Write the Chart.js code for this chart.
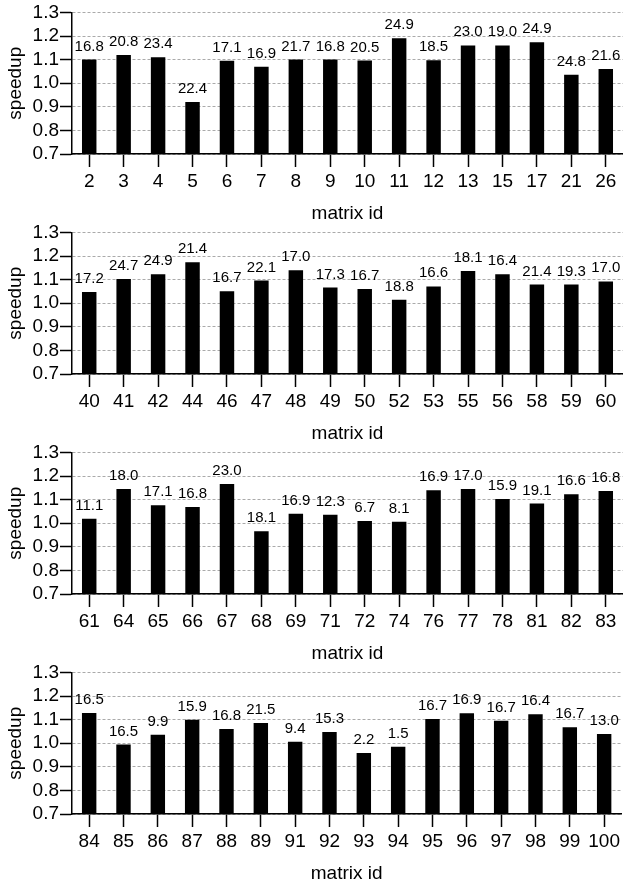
<!DOCTYPE html>
<html>
<head>
<meta charset="utf-8">
<script src="https://cdn.jsdelivr.net/npm/chart.js@4.4.1/dist/chart.umd.min.js"></script>
<style>
    html, body { margin: 0; padding: 0; background: #fff; }
    .panel { width: 623px; height: 220px; }
    canvas { display: block; }
</style>
</head>
<body>
<div class="panel"><canvas id="c1" width="623" height="220"></canvas></div>
<div class="panel"><canvas id="c2" width="623" height="220"></canvas></div>
<div class="panel"><canvas id="c3" width="623" height="220"></canvas></div>
<div class="panel"><canvas id="c4" width="623" height="220"></canvas></div>
<script>
// Datos (speedup por matriz y el valor anotado arriba de cada barra)
const ids1 = ['2', '3', '4', '5', '6', '7', '8', '9', '10', '11', '12', '13', '15', '17', '21', '26'];
const speed1 = [1.10, 1.12, 1.11, 0.92, 1.095, 1.07, 1.10, 1.10, 1.096, 1.19, 1.097, 1.16, 1.16, 1.174, 1.036, 1.06];
const notas1 = ['16.8', '20.8', '23.4', '22.4', '17.1', '16.9', '21.7', '16.8', '20.5', '24.9', '18.5', '23.0', '19.0', '24.9', '24.8', '21.6'];

const ids2 = ['40', '41', '42', '44', '46', '47', '48', '49', '50', '52', '53', '55', '56', '58', '59', '60'];
const speed2 = [1.047, 1.103, 1.123, 1.173, 1.051, 1.096, 1.14, 1.066, 1.06, 1.015, 1.071, 1.136, 1.123, 1.079, 1.079, 1.092];
const notas2 = ['17.2', '24.7', '24.9', '21.4', '16.7', '22.1', '17.0', '17.3', '16.7', '18.8', '16.6', '18.1', '16.4', '21.4', '19.3', '17.0'];

const ids3 = ['61', '64', '65', '66', '67', '68', '69', '71', '72', '74', '76', '77', '78', '81', '82', '83'];
const speed3 = [1.019, 1.145, 1.076, 1.069, 1.166, 0.966, 1.04, 1.036, 1.009, 1.006, 1.14, 1.145, 1.103, 1.083, 1.123, 1.136];
const notas3 = ['11.1', '18.0', '17.1', '16.8', '23.0', '18.1', '16.9', '12.3', '6.7', '8.1', '16.9', '17.0', '15.9', '19.1', '16.6', '16.8'];

const ids4 = ['84', '85', '86', '87', '88', '89', '91', '92', '93', '94', '95', '96', '97', '98', '99', '100'];
const speed4 = [1.128, 0.994, 1.036, 1.099, 1.06, 1.086, 1.006, 1.047, 0.959, 0.985, 1.103, 1.127, 1.095, 1.123, 1.068, 1.039];
const notas4 = ['16.5', '16.5', '9.9', '15.9', '16.8', '21.5', '9.4', '15.3', '2.2', '1.5', '16.7', '16.9', '16.7', '16.4', '16.7', '13.0'];

const yTicks = [0.7, 0.8, 0.9, 1.0, 1.1, 1.2, 1.3];

const FUENTE = '"Liberation Sans", Arial, Helvetica, sans-serif';

// Plugin para escribir el número encima de cada barra
function pluginNotas(textos) {
    return {
        id: 'notas',
        afterDatasetsDraw(chart) {
            const ctx = chart.ctx;
            const meta = chart.getDatasetMeta(0);
            ctx.save();
            ctx.font = '15px ' + FUENTE;
            ctx.fillStyle = '#000';
            ctx.textAlign = 'center';
            ctx.textBaseline = 'alphabetic';
            meta.data.forEach((bar, i) => {
                ctx.fillText(textos[i], bar.x, bar.y - 9);
            });
            ctx.restore();
        }
    };
}

function crearGrafica(canvasId, ids, valores, notas) {
    return new Chart(document.getElementById(canvasId), {
        type: 'bar',
        data: {
            labels: ids,
            datasets: [{
                data: valores,
                backgroundColor: '#000',
                borderWidth: 0,
                barPercentage: 0.42,
                categoryPercentage: 1
            }]
        },
        options: {
            responsive: false,
            animation: false,
            devicePixelRatio: 1,
            layout: { padding: { top: 11, right: 0, bottom: 0, left: 0 } },
            plugins: {
                legend: { display: false },
                tooltip: { enabled: false }
            },
            scales: {
                x: {
                    grid: {
                        display: true,
                        drawOnChartArea: false,
                        drawTicks: true,
                        offset: false,
                        tickLength: 13,
                        tickColor: '#000',
                        tickWidth: 1.5
                    },
                    border: { display: true, color: '#000', width: 1.5 },
                    ticks: {
                        color: '#000',
                        font: { family: FUENTE, size: 19 },
                        padding: 3,
                        maxRotation: 0,
                        autoSkip: false
                    },
                    title: {
                        display: true,
                        text: 'matrix id',
                        color: '#000',
                        font: { family: FUENTE, size: 19 },
                        padding: { top: 0, bottom: -5 }
                    },
                    afterFit: (scale) => { scale.height = 66; }
                },
                y: {
                    min: 0.7,
                    max: 1.3,
                    afterBuildTicks: (scale) => { scale.ticks = yTicks.map(v => ({ value: v })); },
                    grid: {
                        color: '#aaa',
                        lineWidth: 1,
                        tickLength: 12,
                        tickColor: '#000',
                        tickWidth: 1.5,
                        tickBorderDash: []
                    },
                    border: { display: true, color: '#000', width: 1.5, dash: [3, 2] },
                    ticks: {
                        color: '#000',
                        font: { family: FUENTE, size: 19 },
                        padding: 1,
                        autoSkip: false,
                        callback: (v) => Number(v).toFixed(1)
                    },
                    title: {
                        display: true,
                        text: 'speedup',
                        color: '#000',
                        font: { family: FUENTE, size: 19 },
                        padding: { top: 4, bottom: 0 }
                    },
                    afterFit: (scale) => { scale.width = 72; }
                }
            }
        },
        plugins: [pluginNotas(notas)]
    });
}

document.addEventListener('DOMContentLoaded', () => {
    crearGrafica('c1', ids1, speed1, notas1);
    crearGrafica('c2', ids2, speed2, notas2);
    crearGrafica('c3', ids3, speed3, notas3);
    crearGrafica('c4', ids4, speed4, notas4);
});
</script>
</body>
</html>
